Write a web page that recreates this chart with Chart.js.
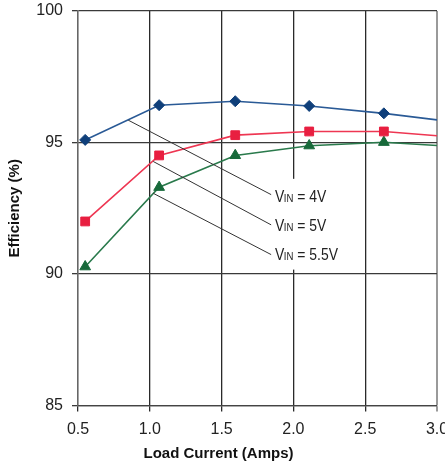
<!DOCTYPE html>
<html>
<head>
<meta charset="utf-8">
<script src="https://cdn.jsdelivr.net/npm/chart.js@4.4.1/dist/chart.umd.min.js"></script>
<style>
  html, body { margin: 0; padding: 0; background: #ffffff; }
  #wrap { width: 445px; height: 466px; }
</style>
</head>
<body>
<div id="wrap"><canvas id="c" width="445" height="466"></canvas></div>
<script>
// ---- data ----
const loadCurrent = [0.55, 1.065, 1.595, 2.11, 2.63, 3.0];
const effVin4 = [95.1, 96.42, 96.57, 96.39, 96.11, 95.86];
const effVin5 = [92.0, 94.51, 95.28, 95.42, 95.42, 95.26];
const effVin55 = [90.28, 93.3, 94.51, 94.88, 95.01, 94.89];
const xTicks = [0.5, 1.0, 1.5, 2.0, 2.5, 3.0];
const yTicks = [85, 90, 95, 100];
const seriesLabels = ['4V', '5V', '5.5V'];

function hasFont(f) {
  const c = document.createElement('canvas').getContext('2d');
  const s = 'Load Current mmmwwwiii';
  c.font = '40px monospace';
  const a = c.measureText(s).width;
  c.font = '40px "' + f + '", monospace';
  return c.measureText(s).width !== a;
}
const NARROW = hasFont('Liberation Sans Narrow');
const titleFont = NARROW
  ? { family: "'Liberation Sans Narrow', 'Liberation Sans', Arial, sans-serif", size: 18, weight: 'bold' }
  : { family: "'Liberation Sans', Arial, sans-serif", size: 15, weight: 'bold' };
const tickFont = { family: "'Liberation Sans', Arial, sans-serif", size: 16 };

function pts(ys) { return loadCurrent.map((x, i) => ({ x: x, y: ys[i] })); }
const radii = loadCurrent.map((x, i) => (i === loadCurrent.length - 1 ? 0 : 5.5));

// leader lines and labels, in data units
const callouts = [
  { text: seriesLabels[0], from: [0.85, 95.85], to: [1.845, 93.02], base: 92.75 },
  { text: seriesLabels[1], from: [1.024, 94.28], to: [1.845, 91.87], base: 91.64 },
  { text: seriesLabels[2], from: [1.024, 93.07], to: [1.845, 90.74], base: 90.55 }
];

const calloutPlugin = {
  id: 'callouts',
  afterDatasetsDraw(chart) {
    const ctx = chart.ctx, xs = chart.scales.x, ys = chart.scales.y;
    ctx.save();
    // white box behind labels
    const bx0 = xs.getPixelForValue(1.86), bx1 = xs.getPixelForValue(2.38);
    const by0 = ys.getPixelForValue(93.62), by1 = ys.getPixelForValue(90.17);
    ctx.fillStyle = '#ffffff';
    ctx.fillRect(bx0, by0, bx1 - bx0, by1 - by0);
    ctx.strokeStyle = '#333333';
    ctx.lineWidth = 1;
    callouts.forEach(c => {
      ctx.beginPath();
      ctx.moveTo(xs.getPixelForValue(c.from[0]), ys.getPixelForValue(c.from[1]));
      ctx.lineTo(xs.getPixelForValue(c.to[0]), ys.getPixelForValue(c.to[1]));
      ctx.stroke();
      const tx = xs.getPixelForValue(1.872), ty = ys.getPixelForValue(c.base);
      ctx.save();
      ctx.translate(tx, ty);
      let big, small;
      if (NARROW) {
        big = "17px 'Liberation Sans Narrow', sans-serif";
        small = "12px 'Liberation Sans Narrow', sans-serif";
      } else {
        ctx.scale(0.87, 1);
        big = "16px 'Liberation Sans', Arial, sans-serif";
        small = "11px 'Liberation Sans', Arial, sans-serif";
      }
      ctx.fillStyle = '#222222';
      ctx.textBaseline = 'alphabetic';
      ctx.textAlign = 'left';
      let x = 0;
      ctx.font = big; ctx.fillText('V', x, 0); x += ctx.measureText('V').width - 0.5;
      ctx.font = small; ctx.fillText('IN', x, 0); x += ctx.measureText('IN').width;
      ctx.font = big; ctx.fillText(' = ' + c.text, x, 0);
      ctx.restore();
    });
    ctx.restore();
  }
};

new Chart(document.getElementById('c'), {
  type: 'line',
  data: {
    datasets: [
      { label: 'VIN = 4V', data: pts(effVin4), borderColor: '#2a5a96', backgroundColor: '#0f3f7a',
        pointStyle: 'rectRot', pointRadius: radii, borderWidth: 1.6, pointBorderWidth: 1, pointBorderColor: '#0f3f7a' },
      { label: 'VIN = 5V', data: pts(effVin5), borderColor: '#ee3652', backgroundColor: '#e81f40',
        pointStyle: 'rect', pointRadius: radii.map(r => r ? 6.2 : 0), borderWidth: 1.6, pointBorderWidth: 1, pointBorderColor: '#e81f40' },
      { label: 'VIN = 5.5V', data: pts(effVin55), borderColor: '#2a7a4c', backgroundColor: '#17693a',
        pointStyle: 'triangle', pointRadius: radii.map(r => r ? 6.2 : 0), borderWidth: 1.6, pointBorderWidth: 1, pointBorderColor: '#17693a' }
    ]
  },
  options: {
    responsive: false,
    animation: false,
    devicePixelRatio: 1,
    layout: { padding: { left: 0, right: 8, top: 11, bottom: 0 } },
    plugins: {
      legend: { display: false },
      tooltip: { enabled: false },
      title: {
        display: true, position: 'bottom', text: 'Load Current (Amps)',
        font: titleFont, color: '#111111', padding: { top: 2, bottom: 3 }
      }
    },
    scales: {
      x: {
        type: 'linear', min: 0.5, max: 3.0,
        afterBuildTicks: s => { s.ticks = xTicks.map(v => ({ value: v })); },
        afterFit: s => { s.height = 37.4; s.paddingLeft = 0; s.paddingRight = 0; },
        ticks: { font: tickFont, color: '#222222', padding: 8, maxRotation: 0, autoSkip: false,
                 callback: v => Number(v).toFixed(1) },
        grid: {
          color: ctx => (ctx.tick && ctx.tick.value === 3.0 ? '#9a9a9a' : '#2a2a2a'),
          lineWidth: ctx => (ctx.tick && ctx.tick.value === 3.0 ? 2 : 1.3),
          tickLength: 6, drawTicks: true
        },
        border: { display: true, color: '#444444', width: 1.3 }
      },
      y: {
        type: 'linear', min: 85, max: 100,
        afterBuildTicks: s => { s.ticks = yTicks.map(v => ({ value: v })); },
        afterFit: s => { s.width = 78; s.paddingTop = 0; s.paddingBottom = 0; },
        ticks: { font: tickFont, color: '#222222', padding: 9 },
        grid: { color: '#3a3a3a', lineWidth: 1.3, tickLength: 6, drawTicks: true },
        border: { display: true, color: '#666666', width: 1.3 },
        title: { display: true, text: 'Efficiency (%)', font: titleFont, color: '#111111', padding: { top: 6, bottom: 0 } }
      }
    }
  },
  plugins: [calloutPlugin]
});
</script>
</body>
</html>
